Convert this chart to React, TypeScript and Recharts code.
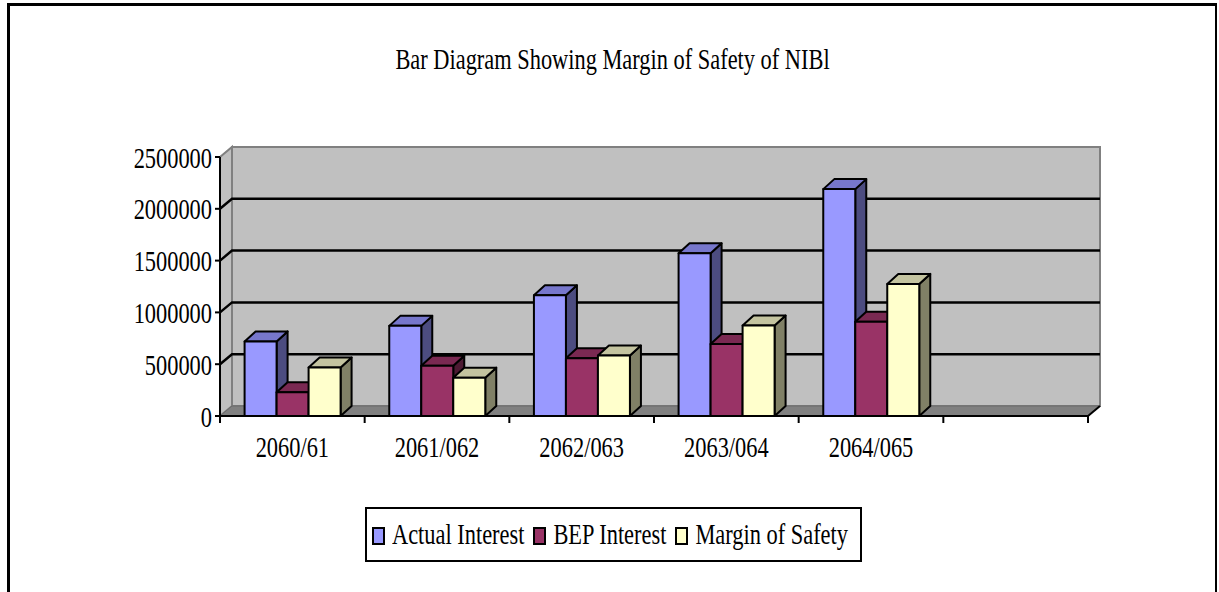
import React from 'react';
import { BarChart, Bar, XAxis, YAxis, ReferenceArea, Legend } from 'recharts';

const categories = ['2060/61', '2061/062', '2062/063', '2063/064', '2064/065', ''];
const actualInterest = [720000, 870000, 1165000, 1570000, 2190000, null];
const bepInterest = [230000, 485000, 558000, 695000, 910000, null];
const marginOfSafety = [468000, 370000, 583000, 873000, 1275000, null];
const yTicks = [0, 500000, 1000000, 1500000, 2000000, 2500000];
const seriesNames = ['Actual Interest', 'BEP Interest', 'Margin of Safety'];
const title = 'Bar Diagram Showing Margin of Safety of NIBl';

const data = categories.map((c, i) => ({
  year: c,
  actual: actualInterest[i],
  bep: bepInterest[i],
  mos: marginOfSafety[i],
}));

const FONT = '"Liberation Serif", "Times New Roman", serif';
const FS = 22.4;
const SY = 1.28;
const WALL_DX = 12;
const WALL_DY = 10;
const BAR_DX = 11;
const BAR_DY = 10;

const colors = {
  actual: { front: '#9999FF', top: '#7777CC', side: '#4C4C80' },
  bep: { front: '#993366', top: '#7A2952', side: '#4D1A33' },
  mos: { front: '#FFFFCC', top: '#C4C4A0', side: '#808066' },
};

const make3D = (c: { front: string; top: string; side: string }) => (props: any) => {
  const { x, y, width, height } = props;
  if (height == null || !(height > 0) || !(width > 0)) return null;
  const x2 = x + width;
  const yb = y + height;
  return (
    <g stroke="#000" strokeWidth={2} strokeLinejoin="round">
      <polygon
        points={`${x2},${y} ${x2 + BAR_DX},${y - BAR_DY} ${x2 + BAR_DX},${yb - BAR_DY} ${x2},${yb}`}
        fill={c.side}
      />
      <polygon
        points={`${x},${y} ${x + BAR_DX},${y - BAR_DY} ${x2 + BAR_DX},${y - BAR_DY} ${x2},${y}`}
        fill={c.top}
      />
      <rect x={x} y={y} width={width} height={height} fill={c.front} />
    </g>
  );
};

const Walls = (props: any) => {
  const { x, y, width, height } = props;
  if (x == null || y == null) return null;
  const yMax = yTicks[yTicks.length - 1];
  const yAt = (v: number) => y + height * (1 - v / yMax);
  const yb = y + height;
  const n = categories.length;
  return (
    <g>
      <polygon
        points={`${x},${y} ${x + WALL_DX},${y - WALL_DY} ${x + WALL_DX},${yb - WALL_DY} ${x},${yb}`}
        fill="#C0C0C0"
        stroke="#808080"
        strokeWidth={2}
      />
      <rect x={x + WALL_DX} y={y - WALL_DY} width={width} height={height} fill="#C0C0C0" stroke="#808080" strokeWidth={2} />
      <polygon
        points={`${x},${yb} ${x + WALL_DX},${yb - WALL_DY} ${x + width + WALL_DX},${yb - WALL_DY} ${x + width},${yb}`}
        fill="#808080"
        stroke="#6a6a6a"
        strokeWidth={1}
      />
      {yTicks
        .filter((v) => v > 0 && v < yMax)
        .map((v) => {
          const yy = yAt(v);
          return (
            <polyline
              key={v}
              points={`${x},${yy} ${x + WALL_DX},${yy - WALL_DY} ${x + width + WALL_DX},${yy - WALL_DY}`}
              fill="none"
              stroke="#000"
              strokeWidth={2.5}
            />
          );
        })}
      <line x1={x + width} y1={yb} x2={x + width + WALL_DX} y2={yb - WALL_DY} stroke="#000" strokeWidth={2} />
      {Array.from({ length: n + 1 }).map((_, i) => {
        const xx = x + (width * i) / n;
        return <line key={i} x1={xx} y1={yb} x2={xx} y2={yb + 7} stroke="#000" strokeWidth={2} />;
      })}
    </g>
  );
};

const YTick = (props: any) => {
  const { x, y, payload } = props;
  return (
    <g transform={`translate(${x},${y + 10.5}) scale(1,${SY})`}>
      <text x={0} y={0} textAnchor="end" fontFamily={FONT} fontSize={FS} fill="#000">
        {payload.value}
      </text>
    </g>
  );
};

const XTick = (props: any) => {
  const { x, y, payload } = props;
  if (!payload.value) return null;
  return (
    <g transform={`translate(${x},${y + 33}) scale(1,${SY})`}>
      <text x={0} y={0} textAnchor="middle" fontFamily={FONT} fontSize={FS} fill="#000">
        {payload.value}
      </text>
    </g>
  );
};

const legendColors = [colors.actual.front, colors.bep.front, colors.mos.front];

const LegendContent = () => (
  <div
    style={{
      boxSizing: 'border-box',
      width: 497,
      height: 55,
      border: '2px solid #000',
      background: '#fff',
      display: 'flex',
      alignItems: 'center',
      paddingLeft: 5,
      fontFamily: FONT,
      fontSize: FS,
      color: '#000',
      whiteSpace: 'nowrap',
    }}
  >
    {seriesNames.map((name, i) => (
      <div key={name} style={{ display: 'flex', alignItems: 'center', marginRight: 9 }}>
        <span
          style={{
            display: 'inline-block',
            boxSizing: 'border-box',
            width: 13,
            height: 18,
            border: '2px solid #000',
            background: legendColors[i],
            marginRight: 7,
            marginTop: 2,
          }}
        />
        <span style={{ display: 'inline-block', transform: `scaleY(${SY})`, lineHeight: '24px' }}>{name}</span>
      </div>
    ))}
  </div>
);

export default function App() {
  return (
    <div style={{ position: 'absolute', left: 0, top: 0, width: 1219, height: 592, background: '#fff', overflow: 'hidden' }}>
      <div style={{ position: 'absolute', left: 7, top: 3, width: 1210, height: 3, background: '#000' }} />
      <div style={{ position: 'absolute', left: 7, top: 3, width: 3, height: 600, background: '#000' }} />
      <div style={{ position: 'absolute', left: 1215, top: 3, width: 2, height: 600, background: '#000' }} />
      <svg width={1219} height={100} style={{ position: 'absolute', left: 0, top: 0 }}>
        <g transform={`translate(612.5,69) scale(1,${SY + 0.05})`}>
          <text x={0} y={0} textAnchor="middle" fontFamily={FONT} fontSize={FS} fill="#000">
            {title}
          </text>
        </g>
      </svg>
      <div style={{ position: 'absolute', left: 0, top: 0 }}>
        <BarChart
          width={1219}
          height={592}
          data={data}
          margin={{ top: 157, right: 131, bottom: 116, left: 0 }}
          barCategoryGap="17%"
          barGap={0}
        >
          <ReferenceArea y1={0} y2={2500000} ifOverflow="visible" shape={<Walls />} />
          <XAxis
            dataKey="year"
            tickLine={false}
            axisLine={{ stroke: '#000', strokeWidth: 2 }}
            tick={<XTick />}
            interval={0}
            height={60}
          />
          <YAxis
            width={220}
            domain={[0, 2500000]}
            ticks={yTicks}
            interval={0}
            tickSize={5}
            tickMargin={3}
            axisLine={{ stroke: '#000', strokeWidth: 2 }}
            tickLine={{ stroke: '#000', strokeWidth: 2 }}
            tick={<YTick />}
          />
          <Legend
            layout="vertical"
            align="center"
            verticalAlign="middle"
            wrapperStyle={{ position: 'absolute', left: 365, top: 507, width: 497, height: 55 }}
            content={<LegendContent />}
          />
          <Bar dataKey="actual" name={seriesNames[0]} fill={colors.actual.front} shape={make3D(colors.actual)} isAnimationActive={false} />
          <Bar dataKey="bep" name={seriesNames[1]} fill={colors.bep.front} shape={make3D(colors.bep)} isAnimationActive={false} />
          <Bar dataKey="mos" name={seriesNames[2]} fill={colors.mos.front} shape={make3D(colors.mos)} isAnimationActive={false} />
        </BarChart>
      </div>
    </div>
  );
}
